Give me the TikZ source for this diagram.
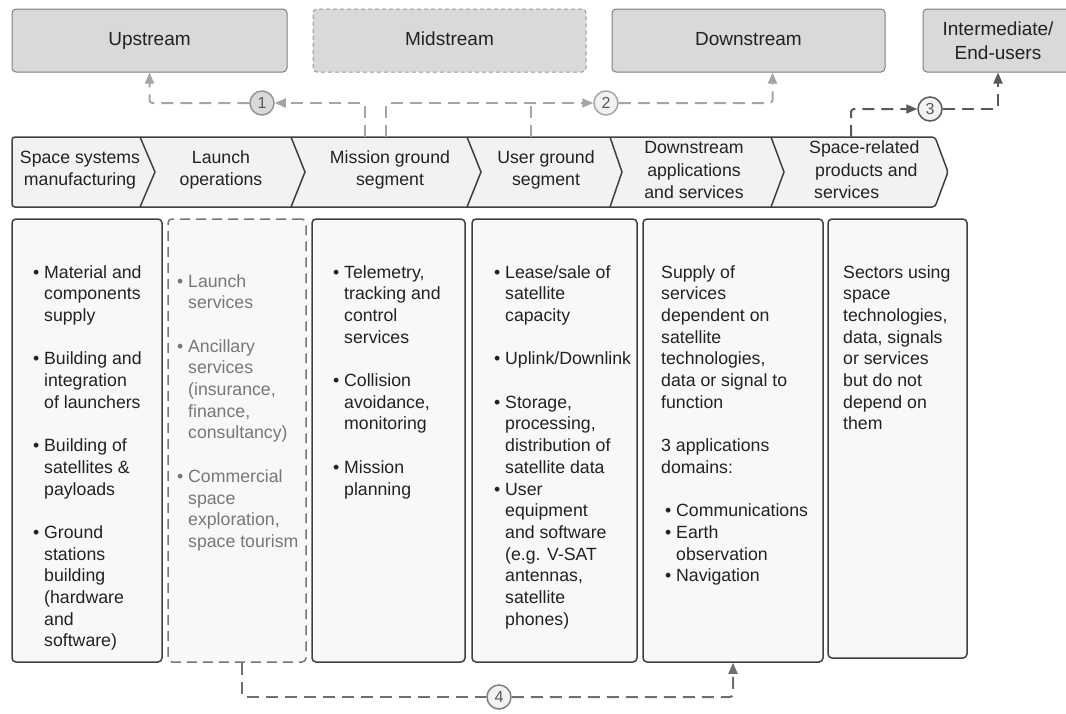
\documentclass[tikz,border=0pt]{standalone}
\usepackage{fontspec}
\setmainfont{Liberation Sans}
\usepackage{tikz}
\usetikzlibrary{arrows.meta,calc,positioning}
\definecolor{stagefill}{HTML}{D9D9D9}
\definecolor{stageline}{HTML}{7F7F7F}
\definecolor{chevfill}{HTML}{F2F2F2}
\definecolor{colfill}{HTML}{F8F8F8}
\definecolor{darkline}{HTML}{404040}
\definecolor{textdark}{HTML}{222222}
\definecolor{textgray}{HTML}{777777}
\definecolor{flowlight}{HTML}{A5A5A5}
\definecolor{flowdark}{HTML}{595959}
\definecolor{flowmid}{HTML}{6F6F6F}
\newcommand\puce{\llap{\textbullet\hspace{5pt}}}

\begin{document}
\begin{tikzpicture}[x=1pt, y=-1pt,
		stage/.style={draw=stageline, fill=stagefill, rounded corners=4pt, line width=1pt, minimum height=63pt, inner sep=0pt, align=center, text=textdark, font=\fontsize{19}{24}\selectfont},
		oneline/.style={text height=13.7pt, text depth=4pt},
		chevtext/.style={align=center, inner sep=0pt, text=textdark, font=\fontsize{17.7}{22.5}\selectfont},
		colbox/.style={draw=darkline, fill=colfill, rounded corners=4pt, line width=1.5pt, minimum height=443pt, inner sep=0pt},
		coltext/.style={anchor=north west, align=left, inner sep=0pt, text=textdark, font=\fontsize{17.7}{21.7}\selectfont},
		num/.style={circle, draw, minimum size=24pt, inner sep=0pt, line width=1.5pt, text=flowdark, font=\fontsize{16}{16}\selectfont},
		flow/.style={dash pattern=on 12pt off 7pt, line width=2pt, rounded corners=3pt, -{Triangle[length=11pt,width=9pt]}},
		]
		\useasboundingbox (0,0) rectangle (1066,713);
		
		% Les étapes du haut
		\node[stage, oneline, minimum width=275pt] (up) at (149.5,40.5) {Upstream};
		\node[stage, oneline, minimum width=273pt, dash pattern=on 4pt off 3pt, draw=stageline!80] (mid) at (449.5,40.5) {Midstream};
		\node[stage, oneline, minimum width=273pt] (down) at (748.5,40.5) {Downstream};
		\node[stage, minimum width=150pt] (inter) at (998,40.5) {Intermediate/\\End-users};
		
		% La chaîne de valeur
		\draw[draw=darkline, fill=chevfill, line width=1.5pt, rounded corners=3pt] (12,137) -- (935,137) -- (948,172) -- (935,207) -- (12,207) -- cycle;
		\foreach \a/\b in {140/155, 291/305, 467/481, 610/622, 771/784}
		\draw[darkline, line width=1.5pt] (\a,137) -- (\b,172) -- (\a,207);
		
		\node[chevtext] (ch1) at (80,170) {Space systems\\manufacturing};
		\node[chevtext] (ch2) at (221,170) {Launch\\operations};
		\node[chevtext] (ch3) at (390,170) {Mission ground\\segment};
		\node[chevtext] (ch4) at (546,170) {User ground\\segment};
		\node[chevtext] (ch5) at (694,170) {Downstream\\applications\\and services};
		\node[chevtext, anchor=west, align=left] (ch6) at (809,170) {Space-related\\\hspace*{6pt}products and\\\hspace*{5pt}services};
		
		% Les colonnes
		\node[colbox, minimum width=150pt] (b1) at (87,440.5) {};
		\node[colbox, minimum width=138pt, draw=textgray, dash pattern=on 10pt off 6pt] (b2) at (237,440.5) {};
		\node[colbox, minimum width=153pt] (b3) at (388.5,440.5) {};
		\node[colbox, minimum width=165pt] (b4) at (554.5,440.5) {};
		\node[colbox, minimum width=180pt] (b5) at (733,440.5) {};
		\node[colbox, minimum width=139pt, minimum height=439pt] (b6) at (897.5,438.5) {};
		
		\node[coltext] (t1) at (44,265) {\puce Material and\\components\\supply\\[21.7pt]\puce Building and\\integration\\of launchers\\[21.7pt]\puce Building of\\satellites \&\\payloads\\[21.7pt]\puce Ground\\stations\\building\\(hardware\\and\\software)};
		\node[coltext, text=textgray] (t2) at (188,274) {\puce Launch\\services\\[21.7pt]\puce Ancillary\\services\\(insurance,\\finance,\\consultancy)\\[21.7pt]\puce Commercial\\space\\exploration,\\space tourism};
		\node[coltext] (t3) at (344,265) {\puce Telemetry,\\tracking and\\control\\services\\[21.7pt]\puce Collision\\avoidance,\\monitoring\\[21.7pt]\puce Mission\\planning};
		\node[coltext] (t4) at (505,265) {\puce Lease/sale of\\satellite\\capacity\\[21.7pt]\puce Uplink/Downlink\\[21.7pt]\puce Storage,\\processing,\\distribution of\\satellite data\\\puce User\\equipment\\and software\\(e.g. V-SAT\\antennas,\\satellite\\phones)};
		\node[coltext] (t5) at (661,265) {Supply of\\services\\dependent on\\satellite\\technologies,\\data or signal to\\function\\[21.7pt]3 applications\\domains:\\[21.7pt]\hspace*{15pt}\puce Communications\\\hspace*{15pt}\puce Earth\\\hspace*{15pt}observation\\\hspace*{15pt}\puce Navigation};
		\node[coltext] (t6) at (843,265) {Sectors using\\space\\technologies,\\data, signals\\or services\\but do not\\depend on\\them};
		
		% Les numéros
		\node[num, draw=flowlight!90!black, fill=stagefill] (n1) at (262,103) {1};
		\node[num, draw=flowlight, fill=chevfill] (n2) at (606,103) {2};
		\node[num, draw=flowdark, fill=chevfill] (n3) at (930,109) {3};
		\node[num, draw=stageline, fill=chevfill] (n4) at (499,697) {4};
		
		% Les flux
		\coordinate (mg1) at (365,137);
		\coordinate (mg2) at (386,137);
		\coordinate (ug) at (531,137);
		\coordinate (sr) at (851,137);
		\coordinate (lo) at ([xshift=5pt]b2.south);
		\draw[flow, flowlight] (mg1) |- (n1);
		\draw[flow, flowlight] (n1) -| (up.south);
		\draw[flow, flowlight] (mg2) |- (n2);
		\draw[flow, flowlight, -] (ug) -- (ug |- n2);
		\draw[flow, flowlight] (n2) -| ([xshift=24pt]down.south);
		\draw[flow, flowdark] (sr) |- (n3);
		\draw[flow, flowdark] (n3) -| (inter.south);
		\draw[flow, flowmid, -] (lo) |- (n4);
		\draw[flow, flowmid] (n4) -| (b5.south);
	\end{tikzpicture}
\end{document}
